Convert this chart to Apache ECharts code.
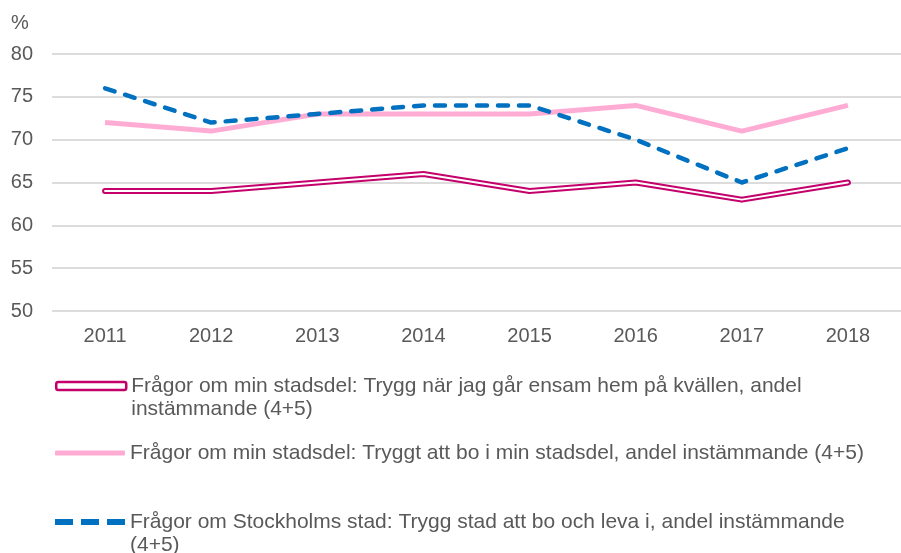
<!DOCTYPE html>
<html>
<head>
<meta charset="utf-8">
<script src="https://cdn.jsdelivr.net/npm/echarts@6/dist/echarts.min.js"></script>
<style>
  html, body { margin: 0; padding: 0; background: #fff; }
  #chart { width: 901px; height: 553px; }
</style>
</head>
<body>
<div id="chart"></div>
<script>
// data
var years = ['2011', '2012', '2013', '2014', '2015', '2016', '2017', '2018'];
var kvallen = [64, 64, 65, 66, 64, 65, 63, 65];
var stadsdel = [72, 71, 73, 73, 73, 74, 71, 74];
var stockholm = [76, 72, 73, 74, 74, 70, 65, 69];
var yTicks = [50, 55, 60, 65, 70, 75, 80];

var names = [
    'Frågor om min stadsdel: Trygg när jag går ensam hem på kvällen, andel instämmande (4+5)',
    'Frågor om min stadsdel: Tryggt att bo i min stadsdel, andel instämmande (4+5)',
    'Frågor om Stockholms stad: Trygg stad att bo och leva i, andel instämmande (4+5)'
];
// where Excel wrapped the legend text
var breaks = {};
breaks[names[0]] = ['Frågor om min stadsdel: Trygg när jag går ensam hem på kvällen, andel', 'instämmande (4+5)'];
breaks[names[2]] = ['Frågor om Stockholms stad: Trygg stad att bo och leva i, andel instämmande', '(4+5)'];

var grey = '#595959';
var font = '"Liberation Sans", Arial, sans-serif';
var magenta = '#c4006b';
var pink = '#ffacd5';
var blue = '#0070c0';

var chart = echarts.init(document.getElementById('chart'));

//one legend block per entry, Excel puts them at uneven heights
function legendBlock(name, top, icon, w, h, itemStyle) {
    return {
        data: [name],
        left: 55,
        top: top,
        orient: 'vertical',
        icon: icon,
        itemWidth: w,
        itemHeight: h,
        itemGap: 0,
        padding: 0,
        selectedMode: false,
        itemStyle: itemStyle,
        //blank first line so the icon sits on the first text line
        formatter: function (n) {
            return breaks[n] ? ' \n' + breaks[n].join('\n') : n;
        },
        textStyle: {
            color: grey,
            fontFamily: font,
            fontSize: 21,
            lineHeight: 23
        }
    };
}

var option = {
    animation: false,
    title: {
        text: '%',
        left: 11,
        top: 13,
        padding: 0,
        textStyle: { color: grey, fontFamily: font, fontSize: 20, fontWeight: 'normal' }
    },
    legend: [
        legendBlock(names[0], 351.5, 'roundRect', 70, 8,
            { color: '#fff', borderColor: magenta, borderWidth: 2.5 }),
        legendBlock(names[1], 441.5, 'roundRect', 70, 5,
            { color: pink, borderWidth: 0 }),
        legendBlock(names[2], 487.5, 'path://M0,0h18v6h-18z M26,0h18v6h-18z M52,0h18v6h-18z', 70, 6,
            { color: blue, borderWidth: 0 })
    ],
    grid: { left: 52, right: 0, top: 54, bottom: 242 },
    xAxis: {
        type: 'category',
        data: years,
        boundaryGap: true,
        axisLine: { show: false },
        axisTick: { show: false },
        axisLabel: { color: grey, fontFamily: font, fontSize: 20, margin: 15 }
    },
    yAxis: {
        type: 'value',
        min: yTicks[0],
        max: yTicks[yTicks.length - 1],
        interval: 5,
        axisLine: { show: false },
        axisTick: { show: false },
        axisLabel: { color: grey, fontFamily: font, fontSize: 20, margin: 19 },
        splitLine: { lineStyle: { color: '#d0d0d0', width: 1.5 } }
    },
    series: [
        {
            name: names[0],
            type: 'line',
            data: kvallen,
            showSymbol: false,
            color: magenta,
            lineStyle: { color: magenta, width: 6, cap: 'round', join: 'round' }
        },
        {
            name: 'inner',
            type: 'line',
            data: kvallen,
            showSymbol: false,
            lineStyle: { color: '#fff', width: 2, cap: 'round', join: 'round' }
        },
        {
            name: names[1],
            type: 'line',
            data: stadsdel,
            showSymbol: false,
            color: pink,
            lineStyle: { color: pink, width: 5, join: 'round' }
        },
        {
            name: names[2],
            type: 'line',
            data: stockholm,
            showSymbol: false,
            color: blue,
            lineStyle: { color: blue, width: 4.5, type: [10, 11], cap: 'round', join: 'round' }
        }
    ]
};

chart.setOption(option);
</script>
</body>
</html>
